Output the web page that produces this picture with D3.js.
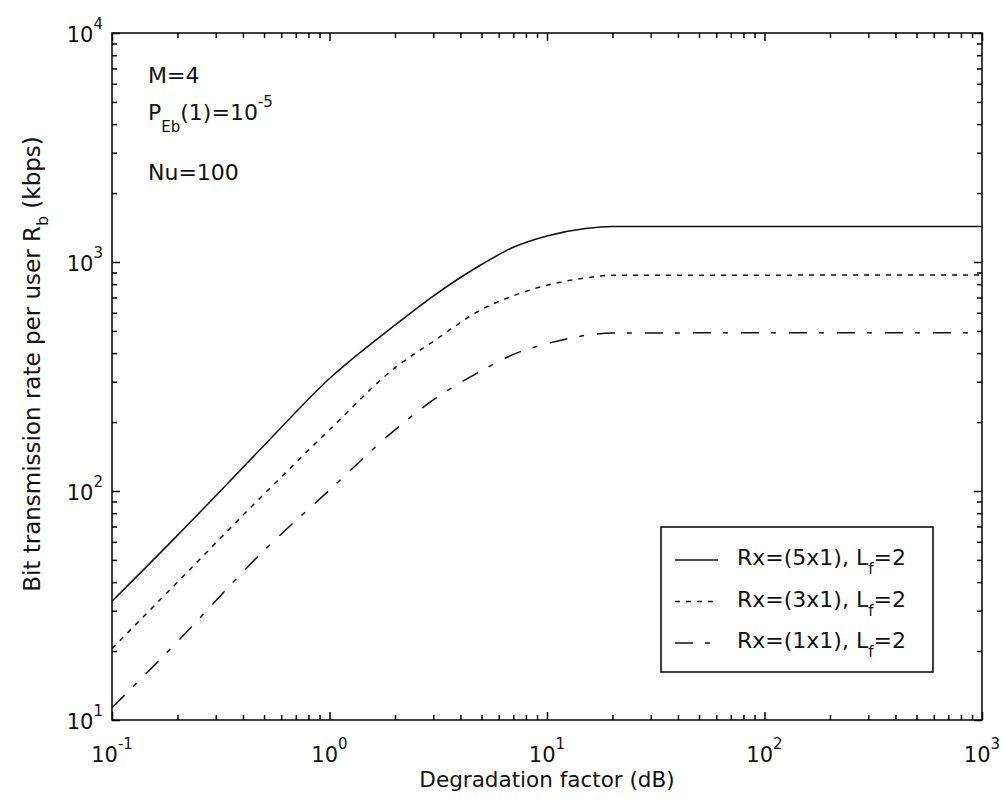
<!DOCTYPE html>
<html>
<head>
<meta charset="utf-8">
<script src="https://cdn.jsdelivr.net/npm/d3@7"></script>
<style>
  body { margin: 0; background: #fff; }
  svg { display: block; font-family: "DejaVu Sans", Verdana, sans-serif; }
</style>
</head>
<body>
<svg id="chart"></svg>
<script>
// degradation factor (dB), shared x for all three curves
const degradation = [0.1, 0.2, 0.5, 1, 2, 3, 5, 7, 10, 15, 20, 1000];

// bit rate per user Rb (kbps)
const rate5x1 = [33, 64, 158, 310, 530, 710, 975, 1160, 1300, 1400, 1430, 1430];
const rate3x1 = [20.5, 40, 97, 185, 345, 450, 620, 712, 792, 852, 875, 877];
const rate1x1 = [11.3, 22, 55, 101, 185, 250, 335, 395, 440, 478, 490, 491];

const seriesNames = ["Rx=(5x1), L", "Rx=(3x1), L", "Rx=(1x1), L"];
const seriesDash = ["none", "5,6", "18,12,5,13"];

const xMajor = [0.1, 1, 10, 100, 1000];
const yMajor = [10, 100, 1000, 10000];

function drawChart() {
    const width = 1003;
    const height = 806;
    const marginTop = 33;
    const marginRight = 21;
    const marginBottom = 86;
    const marginLeft = 112;

    const svg = d3.select('#chart')
        .attr('width', width)
        .attr('height', height);

    const x = d3.scaleLog()
        .domain([0.1, 1000])
        .range([marginLeft, width - marginRight]);

    const y = d3.scaleLog()
        .domain([10, 10000])
        .range([height - marginBottom, marginTop]);

    const isMajor = d => Math.abs(Math.log10(d) - Math.round(Math.log10(d))) < 1e-9;

    // all ticks, majors + 2..9 minors
    function logTicks(lo, hi) {
        const out = [];
        for (let e = lo; e < hi; e++) {
            for (let m = 1; m < 10; m++) out.push(m * Math.pow(10, e));
        }
        out.push(Math.pow(10, hi));
        return out;
    }
    const xTicks = logTicks(-1, 3);
    const yTicks = logTicks(1, 4);

    function styleAxis(g, sign) {
        g.select(".domain").remove();
        g.selectAll(".tick text").remove();
        g.selectAll(".tick line")
            .attr("stroke", "#000")
            .attr("stroke-width", 1.5)
            .each(function(d) {
                const len = isMajor(d) ? 8 : 5;
                const line = d3.select(this);
                if (line.attr("x2") !== null && +line.attr("x2") !== 0) line.attr("x2", sign * len);
                else line.attr("y2", sign * len);
            });
    }

    svg.append("g")
        .attr("transform", `translate(0,${height - marginBottom})`)
        .call(d3.axisBottom(x).tickValues(xTicks).tickSize(-8).tickFormat(""))
        .call(g => styleAxis(g, -1));

    svg.append("g")
        .attr("transform", `translate(0,${marginTop})`)
        .call(d3.axisTop(x).tickValues(xTicks).tickSize(-8).tickFormat(""))
        .call(g => styleAxis(g, 1));

    svg.append("g")
        .attr("transform", `translate(${marginLeft},0)`)
        .call(d3.axisLeft(y).tickValues(yTicks).tickSize(-8).tickFormat(""))
        .call(g => styleAxis(g, 1));

    svg.append("g")
        .attr("transform", `translate(${width - marginRight},0)`)
        .call(d3.axisRight(y).tickValues(yTicks).tickSize(-8).tickFormat(""))
        .call(g => styleAxis(g, -1));

    // frame
    svg.append("rect")
        .attr("x", marginLeft)
        .attr("y", marginTop)
        .attr("width", width - marginLeft - marginRight)
        .attr("height", height - marginTop - marginBottom)
        .attr("fill", "none")
        .attr("stroke", "#000")
        .attr("stroke-width", 1.5);

    // tick labels 10^k
    function powerLabel(sel, d) {
        sel.append("tspan").text("10");
        sel.append("tspan")
            .attr("dy", -13)
            .attr("font-size", 15)
            .text(Math.round(Math.log10(d)));
    }

    svg.append("g")
        .attr("font-size", 21)
        .attr("fill", "#111")
        .selectAll("text")
        .data(xMajor)
        .join("text")
        .attr("x", d => x(d))
        .attr("y", height - marginBottom + 42)
        .attr("text-anchor", "middle")
        .each(function(d) { powerLabel(d3.select(this), d); });

    svg.append("g")
        .attr("font-size", 21)
        .attr("fill", "#111")
        .selectAll("text")
        .data(yMajor)
        .join("text")
        .attr("x", marginLeft - 9)
        .attr("y", d => y(d) + 9)
        .attr("text-anchor", "end")
        .each(function(d) { powerLabel(d3.select(this), d); });

    // axis titles
    svg.append("text")
        .attr("x", (marginLeft + width - marginRight) / 2)
        .attr("y", 787)
        .attr("text-anchor", "middle")
        .attr("font-size", 21.5)
        .attr("fill", "#111")
        .text("Degradation factor (dB)");

    const yTitle = svg.append("text")
        .attr("transform", `translate(40,364) rotate(-90)`)
        .attr("text-anchor", "middle")
        .attr("font-size", 23)
        .attr("fill", "#111");
    yTitle.append("tspan").text("Bit transmission rate per user R");
    yTitle.append("tspan").attr("dy", 8).attr("font-size", 16).text("b");
    yTitle.append("tspan").attr("dy", -8).text(" (kbps)");

    // curves
    const allSeries = [rate5x1, rate3x1, rate1x1].map(vals =>
        degradation.map((d, i) => ({ x: d, y: vals[i] })));

    const line = d3.line()
        .x(d => x(d.x))
        .y(d => y(d.y))
        .curve(d3.curveMonotoneX);

    svg.append("g")
        .selectAll("path")
        .data(allSeries)
        .join("path")
        .attr("fill", "none")
        .attr("stroke", "#111")
        .attr("stroke-width", 1.5)
        .attr("stroke-dasharray", (d, i) => seriesDash[i])
        .attr("d", line);

    // annotations
    const notes = svg.append("g")
        .attr("font-size", 22)
        .attr("fill", "#111");
    notes.append("text").attr("x", 148).attr("y", 83).text("M=4");
    const pe = notes.append("text").attr("x", 148).attr("y", 120);
    pe.append("tspan").text("P");
    pe.append("tspan").attr("dy", 12).attr("font-size", 15).text("Eb");
    pe.append("tspan").attr("dy", -12).text("(1)=10");
    pe.append("tspan").attr("dy", -13).attr("font-size", 15).text("-5");
    notes.append("text").attr("x", 148).attr("y", 180).text("Nu=100");

    // legend
    const legend = svg.append("g");
    legend.append("rect")
        .attr("x", 661)
        .attr("y", 527)
        .attr("width", 272)
        .attr("height", 145)
        .attr("fill", "#fff")
        .attr("stroke", "#000")
        .attr("stroke-width", 1.5);

    const rows = legend.selectAll("g.row")
        .data(seriesNames)
        .join("g")
        .attr("class", "row")
        .attr("transform", (d, i) => `translate(0,${565 + i * 41.5})`);

    rows.append("line")
        .attr("x1", 675)
        .attr("x2", 718)
        .attr("y1", -5)
        .attr("y2", -5)
        .attr("stroke", "#111")
        .attr("stroke-width", 1.5)
        .attr("stroke-dasharray", (d, i) => seriesDash[i]);

    rows.append("text")
        .attr("x", 737)
        .attr("font-size", 22)
        .attr("fill", "#111")
        .each(function(d) {
            const t = d3.select(this);
            t.append("tspan").text(d);
            t.append("tspan").attr("dy", 9).attr("font-size", 15).text("f");
            t.append("tspan").attr("dy", -9).text("=2");
        });

    return svg.node();
}

drawChart();
</script>
</body>
</html>
